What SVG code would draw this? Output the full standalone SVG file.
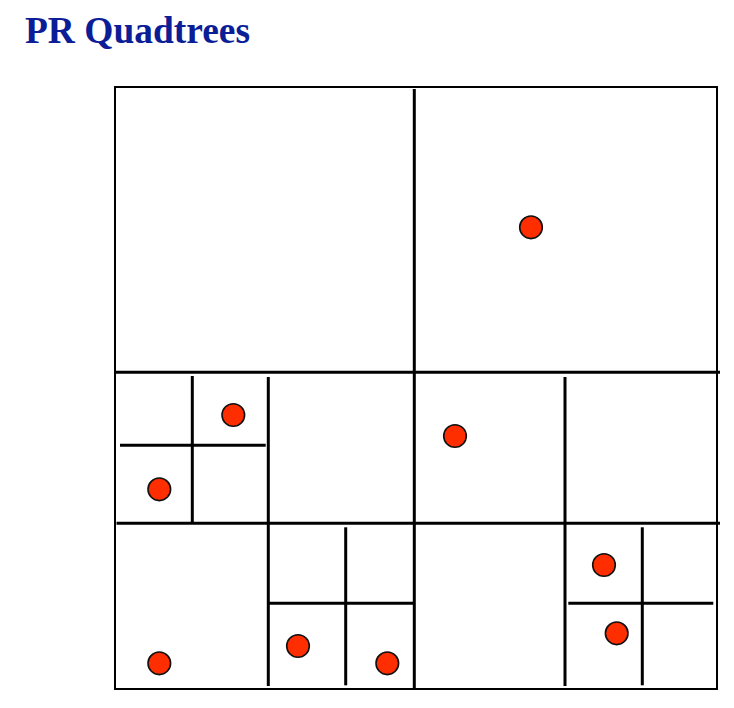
<svg xmlns="http://www.w3.org/2000/svg" width="734" height="708" viewBox="0 0 734 708">
<style>
.b{fill:none;stroke:#000;stroke-width:2}
.l{stroke:#000;stroke-width:3;fill:none}
.p{fill:#FF2E00;stroke:#111;stroke-width:1.6}
.t{font-family:"Liberation Serif","Times New Roman",serif;font-weight:bold;font-size:37px;fill:#0B1E97}
</style>
<rect width="734" height="708" fill="#fff"/>
<text class="t" x="25" y="42.5" textLength="225" lengthAdjust="spacingAndGlyphs">PR Quadtrees</text>
<g id="outline">
<rect class="b" x="115" y="87" width="602" height="602"/>
</g>
<g id="splits">
<line class="l" x1="414.3" y1="89" x2="414.3" y2="689"/>
<line class="l" x1="115" y1="372.3" x2="720" y2="372.3"/>
<line class="l" x1="116.5" y1="523.3" x2="720" y2="523.3"/>
<line class="l" x1="192.3" y1="376" x2="192.3" y2="523"/>
<line class="l" x1="120" y1="445.3" x2="265.7" y2="445.3"/>
<line class="l" x1="268.3" y1="377" x2="268.3" y2="686"/>
<line class="l" x1="565" y1="377" x2="565" y2="686"/>
<line class="l" x1="345.7" y1="527.3" x2="345.7" y2="685.3"/>
<line class="l" x1="268.3" y1="603.3" x2="413.3" y2="603.3"/>
<line class="l" x1="642.3" y1="527.3" x2="642.3" y2="685.3"/>
<line class="l" x1="568.3" y1="603.3" x2="713.3" y2="603.3"/>
</g>
<g id="points">
<circle class="p" cx="531" cy="227.3" r="11.3"/>
<circle class="p" cx="233.3" cy="415" r="11.3"/>
<circle class="p" cx="159.3" cy="489.3" r="11.3"/>
<circle class="p" cx="455" cy="436" r="11.3"/>
<circle class="p" cx="159.3" cy="663.3" r="11.3"/>
<circle class="p" cx="298" cy="646" r="11.3"/>
<circle class="p" cx="387.3" cy="663.3" r="11.3"/>
<circle class="p" cx="604" cy="565" r="11.3"/>
<circle class="p" cx="616.7" cy="633.3" r="11.3"/>
</g>
</svg>
